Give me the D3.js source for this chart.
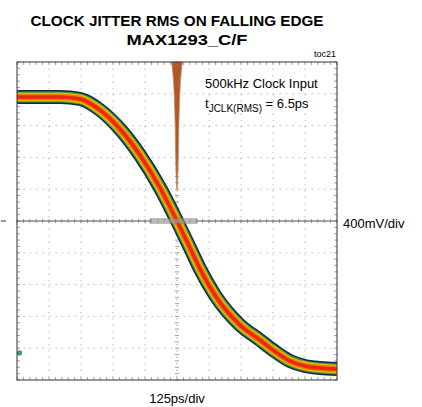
<!DOCTYPE html>
<html><head><meta charset="utf-8">
<script src="https://cdn.jsdelivr.net/npm/d3@7"></script>
<style>body{margin:0;background:#fff}</style>
</head><body>
<svg id="chart" width="422" height="407"></svg>
<script>
// centre of the falling-edge band (time in ps, level in mV)
var edgeTimePs = [-625,-457,-379,-301,-223,-145,-66,0,51,90,148,246,324,375,441,500,559,625];
var edgeLevelMv = [1560,1560,1535,1396,1157,830,415,0,-340,-604,-931,-1308,-1497,-1623,-1761,-1824,-1849,-1862];
// jitter histogram hanging from the top of the screen
var histOffsetPs = [-21,-17.5,-11.7,-7.8,-3.9,0,3.9,7.8,11.7,17.5,21];
var histHits = [0,0.25,0.88,1.8,3.4,4.0,3.4,1.8,0.88,0.25,0];
var histWindowPs = [-105, 78];
var groundMv = -1660;
var timeTicks = d3.range(-625, 626, 125);
var voltTicks = d3.range(-2000, 2001, 400);
var timeMinor = d3.range(-625, 626, 25);
var voltMinor = d3.range(-2000, 2001, 80);

var svg = d3.select("#chart");
var pLeft = 17, pRight = 337, pTop = 62, pBottom = 380;

var x = d3.scaleLinear().domain([-625, 625]).range([pLeft, pRight]);
var y = d3.scaleLinear().domain([-2000, 2000]).range([pBottom, pTop]);
var hits = d3.scaleLinear().domain([0, 4]).range([0, (pBottom - pTop) * 0.4]);

var font = "'Liberation Sans', Arial, sans-serif";
var narrow = "'Liberation Sans Narrow', 'Liberation Sans', Arial, sans-serif";

// title
svg.append("text").attr("x", 177).attr("y", 26).attr("text-anchor", "middle")
    .style("font-family", narrow).style("font-weight", "bold").style("font-size", "15px")
    .attr("textLength", 293).attr("lengthAdjust", "spacingAndGlyphs")
    .text("CLOCK JITTER RMS ON FALLING EDGE");
svg.append("text").attr("x", 187).attr("y", 45).attr("text-anchor", "middle")
    .style("font-family", narrow).style("font-weight", "bold").style("font-size", "15px")
    .attr("textLength", 121).attr("lengthAdjust", "spacingAndGlyphs")
    .text("MAX1293_C/F");
svg.append("text").attr("x", pRight - 1).attr("y", 57).attr("text-anchor", "end")
    .style("font-family", font).style("font-size", "9px").text("toc21");

svg.append("clipPath").attr("id", "plotclip").append("rect")
    .attr("x", pLeft).attr("y", pTop).attr("width", pRight - pLeft).attr("height", pBottom - pTop);

// grid
var grid = svg.append("g");
grid.selectAll(".vg").data(timeTicks.filter(function(d){ return d > -625 && d < 625 && d != 0; }))
  .enter().append("line")
    .attr("x1", function(d){ return x(d); }).attr("x2", function(d){ return x(d); })
    .attr("y1", pTop).attr("y2", pBottom)
    .attr("stroke", "#b8b8b8").attr("stroke-width", 1)
    .attr("stroke-dasharray", "1.5,4.9");
grid.selectAll(".hg").data(voltTicks.filter(function(d){ return d > -2000 && d < 2000 && d != 0; }))
  .enter().append("line")
    .attr("y1", function(d){ return y(d); }).attr("y2", function(d){ return y(d); })
    .attr("x1", pLeft).attr("x2", pRight)
    .attr("stroke", "#b8b8b8").attr("stroke-width", 1)
    .attr("stroke-dasharray", "1.5,4.9");

// minor ticks on the border and centre axes
var tk = svg.append("g").attr("stroke", "#8a8a8a").attr("stroke-width", 0.8);
timeMinor.forEach(function(t){
  tk.append("line").attr("x1", x(t)).attr("x2", x(t)).attr("y1", pTop).attr("y2", pTop + 3);
  tk.append("line").attr("x1", x(t)).attr("x2", x(t)).attr("y1", pBottom).attr("y2", pBottom - 3);
  tk.append("line").attr("x1", x(t)).attr("x2", x(t)).attr("y1", y(0) - 2).attr("y2", y(0) + 2);
});
voltMinor.forEach(function(v){
  tk.append("line").attr("y1", y(v)).attr("y2", y(v)).attr("x1", pLeft).attr("x2", pLeft + 3);
  tk.append("line").attr("y1", y(v)).attr("y2", y(v)).attr("x1", pRight).attr("x2", pRight - 3);
  tk.append("line").attr("y1", y(v)).attr("y2", y(v)).attr("x1", x(0) - 2).attr("x2", x(0) + 2);
});
svg.append("line").attr("x1", x(0)).attr("x2", x(0)).attr("y1", pTop).attr("y2", pBottom)
    .attr("stroke", "#a0a0a0").attr("stroke-dasharray", "1.5,4.9");

// jitter histogram
var histArea = d3.area()
    .x(function(d){ return x(d[0]); })
    .y0(pTop)
    .y1(function(d){ return pTop + hits(d[1]); })
    .curve(d3.curveMonotoneX);
svg.append("path").datum(d3.zip(histOffsetPs, histHits))
    .attr("d", histArea).attr("fill", "#ad5a28").attr("stroke", "#c98a62").attr("stroke-width", 0.8);

// the falling edge band
var edge = d3.line()
    .x(function(d){ return x(d[0]); })
    .y(function(d){ return y(d[1]); })
    .curve(d3.curveMonotoneX);
var pts = d3.zip(edgeTimePs, edgeLevelMv);
var band = svg.append("g").attr("clip-path", "url(#plotclip)");
var layers = [["#122a4a", 14], ["#3c9a3c", 11], ["#f2c400", 8.5], ["#f47a00", 6.5], ["#e82a10", 3.5]];
layers.forEach(function(l){
  band.append("path").datum(pts).attr("d", edge)
      .attr("fill", "none").attr("stroke", l[0]).attr("stroke-width", l[1]);
});

// centre horizontal line and histogram window
svg.append("line").attr("x1", pLeft).attr("x2", pRight).attr("y1", y(0)).attr("y2", y(0))
    .attr("stroke", "#555").attr("stroke-width", 1);
svg.append("line").attr("x1", 1).attr("x2", 6).attr("y1", y(0)).attr("y2", y(0))
    .attr("stroke", "#333").attr("stroke-width", 1);
svg.append("rect").attr("x", x(histWindowPs[0])).attr("y", y(0) - 2)
    .attr("width", x(histWindowPs[1]) - x(histWindowPs[0])).attr("height", 4)
    .attr("fill", "#e6d8cc").attr("fill-opacity", 0.35).attr("stroke", "#808080").attr("stroke-width", 1);

// ground marker
svg.append("circle").attr("cx", pLeft + 2.5).attr("cy", y(groundMv)).attr("r", 2.6).attr("fill", "#3a9a84");

// border
svg.append("rect").attr("x", pLeft).attr("y", pTop).attr("width", pRight - pLeft).attr("height", pBottom - pTop)
    .attr("fill", "none").attr("stroke", "#333").attr("stroke-width", 1);

// labels
svg.append("text").attr("x", 205).attr("y", 88).style("font-family", font).style("font-size", "13px")
    .text("500kHz Clock Input");
var tj = svg.append("text").attr("x", 205).attr("y", 108).style("font-family", font).style("font-size", "13px");
tj.append("tspan").text("t");
tj.append("tspan").attr("dy", 4).style("font-size", "10px").text("JCLK(RMS)");
tj.append("tspan").attr("dy", -4).text(" = 6.5ps");
svg.append("text").attr("x", 343).attr("y", 228).style("font-family", font).style("font-size", "13px")
    .text("400mV/div");
svg.append("text").attr("x", 177).attr("y", 403).attr("text-anchor", "middle")
    .style("font-family", font).style("font-size", "13px").text("125ps/div");
</script>
</body></html>
